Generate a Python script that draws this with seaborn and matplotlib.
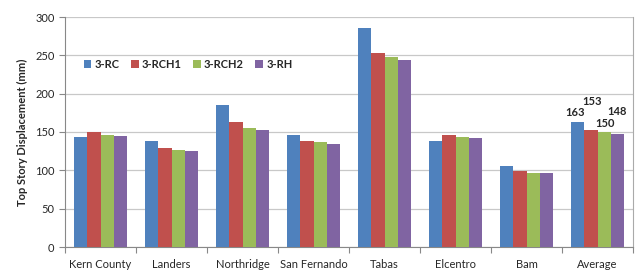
import matplotlib
matplotlib.use("Agg")
import matplotlib.pyplot as plt
import seaborn as sns
import pandas as pd
import numpy as np

# values
records = ['Kern County', 'Landers', 'Northridge', 'San Fernando',
           'Tabas', 'Elcentro', 'Bam', 'Average']
models = ['3-RC', '3-RCH1', '3-RCH2', '3-RH']
rc = [144, 138, 185, 146.5, 285, 138, 106, 163]
rch1 = [150, 128.5, 163.5, 138, 253, 145.5, 98.5, 153]
rch2 = [146.5, 127, 155, 137, 248, 144, 97, 150]
rh = [145, 125, 153, 135, 244, 142.5, 96.5, 148]
avg_labels = ['163', '153', '150', '148']

colors = ['#4F81BD', '#C0504D', '#9BBB59', '#8064A2']

rows = []
for m, vals in zip(models, [rc, rch1, rch2, rh]):
    for r, v in zip(records, vals):
        rows.append([r, m, v])
df = pd.DataFrame(rows, columns=['record', 'model', 'disp'])

sns.set_style("white")
plt.rcParams['font.family'] = ['Lato', 'DejaVu Sans']

fig = plt.figure(figsize=(6.35, 2.73), dpi=100)
ax = fig.add_axes([65 / 635, 1 - 247 / 273, 568 / 635, 230 / 273])

sns.barplot(data=df, x='record', y='disp', hue='model', order=records,
            hue_order=models, palette=colors, width=0.74, saturation=1,
            edgecolor='none', ax=ax, zorder=3)

ax.set_ylim(0, 300)
ax.set_xlim(-0.5, len(records) - 0.5)
ax.set_yticks(np.arange(0, 301, 50))
ax.yaxis.grid(True, color='#c8c8c8', linewidth=0.9, zorder=0)
ax.set_axisbelow(True)
ax.set_xlabel('')
ax.set_ylabel('Top Story Displacement (mm)', fontsize=8, fontweight='bold',
              labelpad=5)

ax.spines['top'].set_visible(False)
ax.spines['right'].set_color('#aaaaaa')
ax.spines['left'].set_color('#888888')
ax.spines['bottom'].set_color('#888888')

# tick marks sit between the groups like excel
ax.set_xticks(np.arange(-0.5, len(records), 1), minor=True)
ax.tick_params(axis='x', which='major', length=0, labelsize=8, pad=9)
ax.tick_params(axis='x', which='minor', length=4, width=0.8, color='#888888',
               direction='out', bottom=True)
ax.tick_params(axis='y', length=4, width=0.8, color='#888888', labelsize=8,
               left=True, direction='out')

# data labels on the average bars (staggered like the original)
offsets = [(-2, 3), (1, 16), (1, 2), (0, 12)]
for cont, lab, off in zip(ax.containers, avg_labels, offsets):
    bar = cont[-1]
    x = bar.get_x() + bar.get_width() / 2
    ax.annotate(lab, (x, bar.get_height()), xytext=off,
                textcoords='offset points', ha='center', va='bottom',
                fontsize=8, fontweight='bold')

leg = ax.legend(loc='upper left', bbox_to_anchor=(0.015, 0.86), ncol=4,
                frameon=False, fontsize=8, handlelength=0.7,
                handleheight=0.7, handletextpad=0.3, columnspacing=1.0)
for t in leg.get_texts():
    t.set_fontweight('bold')

fig.savefig('out.png', dpi=100)
